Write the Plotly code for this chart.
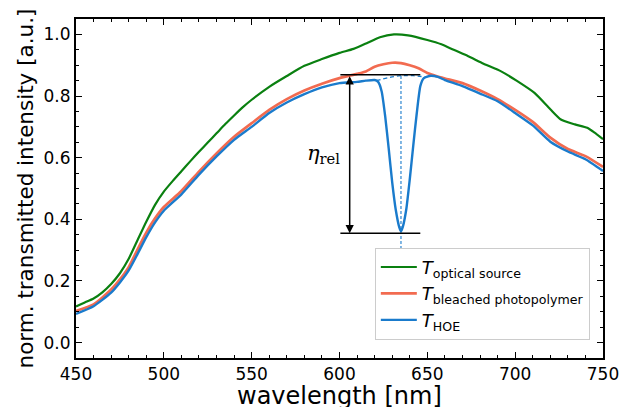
import plotly.graph_objects as go

# ---------------- data ----------------
wl_source = [450, 455, 460, 465, 470, 475, 480, 485, 490, 495, 500, 505, 510, 515, 520, 525, 530, 535,
             540, 545, 550, 560, 570, 580, 590, 600, 608, 616, 623, 631, 639, 650, 658, 665, 673, 682,
             692, 701, 711, 720, 726, 734, 741, 745, 750]
t_source = [0.117, 0.130, 0.143, 0.163, 0.190, 0.225, 0.272, 0.332, 0.392, 0.447, 0.490, 0.524, 0.556,
            0.588, 0.619, 0.649, 0.679, 0.709, 0.737, 0.764, 0.788, 0.830, 0.865, 0.898, 0.920, 0.940,
            0.953, 0.973, 0.991, 1.000, 0.997, 0.982, 0.968, 0.950, 0.930, 0.905, 0.880, 0.849, 0.810,
            0.757, 0.724, 0.708, 0.697, 0.682, 0.660]

wl_bleached = [450, 460, 470, 475, 480, 485, 490, 495, 500, 510, 520, 530, 540, 550, 560, 570, 580, 590,
               600, 610, 615, 620, 625, 630, 635, 640, 645, 650, 655, 660, 670, 680, 690, 700, 710, 720,
               730, 740, 750]
t_bleached = [0.103, 0.124, 0.172, 0.205, 0.245, 0.302, 0.357, 0.403, 0.440, 0.492, 0.555, 0.614, 0.668,
              0.712, 0.755, 0.790, 0.818, 0.840, 0.858, 0.872, 0.880, 0.895, 0.903, 0.908, 0.907, 0.900,
              0.890, 0.875, 0.865, 0.857, 0.842, 0.818, 0.790, 0.755, 0.716, 0.665, 0.628, 0.605, 0.570]

wl_hoe = [450, 460, 470, 475, 480, 485, 490, 495, 500, 510, 520, 530, 540, 550, 560, 570, 580, 590, 600,
          610, 615, 620, 622, 624, 626, 628, 630, 632, 634, 635, 636, 638, 640, 642, 644, 646, 648, 652,
          656, 660, 670, 680, 690, 700, 710, 720, 730, 740, 750]
t_hoe = [0.093, 0.118, 0.162, 0.195, 0.234, 0.287, 0.342, 0.390, 0.428, 0.481, 0.545, 0.604, 0.658, 0.700,
         0.745, 0.779, 0.806, 0.828, 0.842, 0.846, 0.850, 0.852, 0.846, 0.815, 0.735, 0.630, 0.520, 0.432,
         0.375, 0.362, 0.375, 0.432, 0.530, 0.640, 0.745, 0.832, 0.858, 0.866, 0.862, 0.852, 0.832, 0.808,
         0.783, 0.745, 0.705, 0.652, 0.620, 0.595, 0.557]

# interpolated HOE baseline (dashed) and dip centre
wl_baseline = [621, 628, 635, 642, 650]
t_baseline = [0.850, 0.860, 0.866, 0.866, 0.861]
dip_wl = 635
eta_top = 0.869
eta_bottom = 0.355
arrow_wl = 605.8
level_x0 = 600.5
level_x1 = 646
eta_label_wl = 591
eta_label_y = 0.611

names = ["<i>T</i><sub>optical source</sub>",
         "<i>T</i><sub>bleached photopolymer</sub>",
         "<i>T</i><sub>HOE</sub>"]
colors = ["#0a8010", "#f26b50", "#1a7bcc"]

x_ticks = [450, 500, 550, 600, 650, 700, 750]
y_ticks = [0.0, 0.2, 0.4, 0.6, 0.8, 1.0]
x_label = "wavelength [nm]"
y_label = "norm. transmitted intensity [a.u.]"

# ---------------- figure ----------------
fig = go.Figure()
fig.add_trace(go.Scatter(x=wl_source, y=t_source, mode="lines", name=names[0],
                         line=dict(color=colors[0], width=2.2, shape="spline", smoothing=0.6)))
fig.add_trace(go.Scatter(x=wl_bleached, y=t_bleached, mode="lines", name=names[1],
                         line=dict(color=colors[1], width=2.7, shape="spline", smoothing=0.6)))
fig.add_trace(go.Scatter(x=wl_hoe, y=t_hoe, mode="lines", name=names[2],
                         line=dict(color=colors[2], width=2.4, shape="spline", smoothing=0.5)))
fig.add_trace(go.Scatter(x=wl_baseline, y=t_baseline, mode="lines", showlegend=False,
                         line=dict(color=colors[2], width=1.3, dash="4px,3px", shape="spline")))
fig.add_trace(go.Scatter(x=[dip_wl, dip_wl], y=[min(t_hoe), eta_top], mode="lines", showlegend=False,
                         line=dict(color=colors[2], width=1.1, dash="3px,2px")))
# level lines
fig.add_trace(go.Scatter(x=[level_x0, level_x1], y=[eta_top, eta_top], mode="lines", showlegend=False,
                         line=dict(color="black", width=1.5)))
fig.add_trace(go.Scatter(x=[level_x0, level_x1], y=[eta_bottom, eta_bottom], mode="lines",
                         showlegend=False, line=dict(color="black", width=1.5)))

fig.add_annotation(x=arrow_wl, y=eta_bottom, ax=arrow_wl, ay=eta_top, xref="x", yref="y",
                   axref="x", ayref="y", text="", showarrow=True, arrowhead=2, arrowside="end+start",
                   arrowsize=1.1, arrowwidth=1.5, arrowcolor="black", standoff=0, startstandoff=0)
fig.add_annotation(x=eta_label_wl, y=eta_label_y, xref="x", yref="y", showarrow=False,
                   text="<i>η</i><sub>rel</sub>",
                   font=dict(family="DejaVu Serif", size=21, color="black"))
# axis titles (placed as annotations so they sit where the reference has them)
fig.add_annotation(x=0.5, y=0, xref="paper", yref="paper", xanchor="center", yanchor="top",
                   yshift=-22, showarrow=False, text=x_label,
                   font=dict(family="DejaVu Sans", size=24, color="black"))
fig.add_annotation(x=0, y=0.5, xref="paper", yref="paper", xanchor="center", yanchor="middle",
                   xshift=-51, showarrow=False, text=y_label, textangle=-90,
                   font=dict(family="DejaVu Sans", size=21.5, color="black"))

axis_common = dict(showline=True, linecolor="black", linewidth=2, mirror="allticks",
                   ticks="inside", ticklen=6, tickwidth=1.2, tickcolor="black",
                   showgrid=False, zeroline=False, automargin=False,
                   tickfont=dict(family="DejaVu Sans", size=17, color="black"))

fig.update_xaxes(range=[450, 750], tickvals=x_ticks, ticktext=[str(v) for v in x_ticks],
                 minor=dict(ticks="inside", dtick=10, ticklen=3, tickwidth=1, tickcolor="black"),
                 **axis_common)
fig.update_yaxes(range=[-0.05, 1.05], tickvals=y_ticks, ticktext=[f"{v:.1f}" for v in y_ticks],
                 minor=dict(ticks="inside", tick0=0, dtick=0.05, ticklen=3, tickwidth=1, tickcolor="black"),
                 **axis_common)

fig.update_layout(
    width=622, height=407,
    margin=dict(l=76, r=19, t=19, b=49),
    paper_bgcolor="white", plot_bgcolor="white",
    legend=dict(x=0.975, y=0.325, xanchor="right", yanchor="top",
                bgcolor="white", bordercolor="#cccccc", borderwidth=1,
                font=dict(family="DejaVu Sans", size=18, color="black"),
                tracegroupgap=0, itemwidth=36),
)

# remove the default page margin so the 622x407 canvas fills the window exactly
fig.write_html("out.html", config={"displayModeBar": False},
               post_script="document.body.style.margin='0';document.body.style.overflow='hidden';")
